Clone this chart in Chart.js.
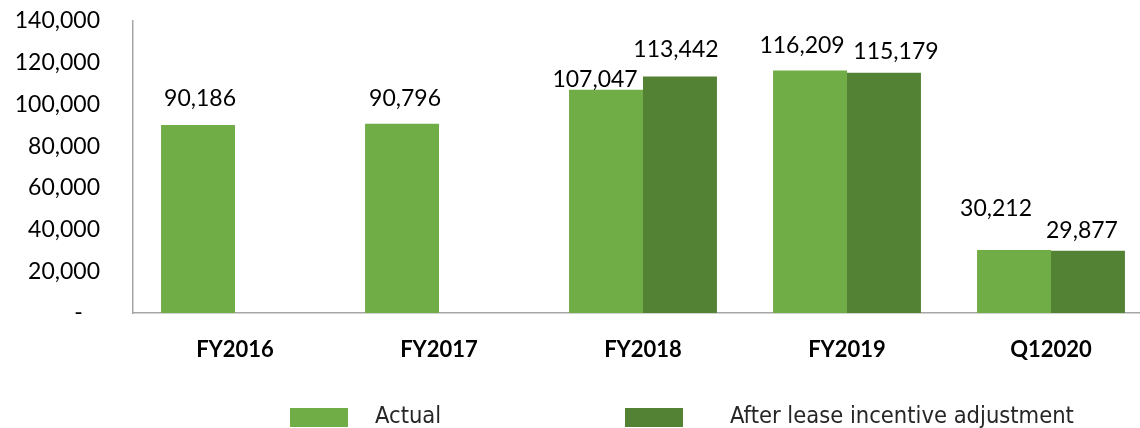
<!DOCTYPE html>
<html>
<head>
<meta charset="utf-8">
<script src="https://cdn.jsdelivr.net/npm/chart.js@4/dist/chart.umd.min.js"></script>
<style>
  html, body { margin: 0; padding: 0; background: #fff; overflow: hidden; }
  #wrap { position: relative; width: 1160px; height: 428px; }
  .lg-box { position: absolute; width: 58px; height: 19px; }
  .lg-text {
    position: absolute; font-family: "DejaVu Sans Condensed", "Liberation Sans Narrow", sans-serif;
    font-size: 23.5px; color: #262626; line-height: 23px; white-space: nowrap;
  }
</style>
</head>
<body>
<div id="wrap">
  <canvas id="chart"></canvas>
  <div id="legend"></div>
</div>
<script>
const categories = ["FY2016", "FY2017", "FY2018", "FY2019", "Q12020"];
const actualValues = [90186, 90796, 107047, 116209, 30212];
const adjustedValues = [null, null, 113442, 115179, 29877];
const seriesNames = ["Actual", "After lease incentive adjustment"];
const seriesColors = ["#70AD47", "#548235"];
const yTicks = [0, 20000, 40000, 60000, 80000, 100000, 120000, 140000];

// small hand nudges [dx, dy] for the value labels, like the original's moved labels
const labelNudge = [
  [[2, 0], [3, 1], [-11, 16], [-8, 1], [-18, -15]],
  [[0, 0], [0, 0], [-4, 0], [12, 5], [-6, 6]],
];

const fmt = (v) => v.toLocaleString("en-US");

// value labels above each bar
const barLabels = {
  id: "barLabels",
  afterDatasetsDraw(chart) {
    const ctx = chart.ctx;
    ctx.save();
    ctx.font = "23px Lato";
    ctx.fillStyle = "#000";
    ctx.textAlign = "center";
    ctx.textBaseline = "alphabetic";
    chart.data.datasets.forEach((ds, i) => {
      const meta = chart.getDatasetMeta(i);
      meta.data.forEach((bar, j) => {
        const v = ds.data[j];
        if (v == null) return;
        const [dx, dy] = labelNudge[i][j];
        ctx.fillText(fmt(v), bar.x + dx, bar.y - 19 + dy);
      });
    });
    ctx.restore();
  },
};

const ctx = document.getElementById("chart").getContext("2d");
new Chart(ctx, {
  type: "bar",
  data: {
    labels: categories,
    datasets: [
      { label: seriesNames[0], data: actualValues, backgroundColor: seriesColors[0] },
      { label: seriesNames[1], data: adjustedValues, backgroundColor: seriesColors[1] },
    ],
  },
  options: {
    responsive: true,
    maintainAspectRatio: false,
    animation: false,
    layout: { padding: { top: 21, right: 7, bottom: 55, left: 0 } },
    datasets: { bar: { barPercentage: 1, categoryPercentage: 0.725 } },
    plugins: {
      legend: { display: false },
      tooltip: { enabled: false },
    },
    scales: {
      x: {
        grid: { display: false, drawTicks: true, tickLength: 22 },
        border: { display: true, color: "#A6A6A6", width: 1.5 },
        ticks: { padding: 2, color: "#000", font: { family: "Lato", size: 22, weight: "bold" } },
        afterFit: (scale) => { scale.height = 60; },
      },
      y: {
        min: 0,
        max: 140000,
        afterBuildTicks: (scale) => { scale.ticks = yTicks.map((v) => ({ value: v })); },
        grid: { display: false, drawTicks: true, tickLength: 31 },
        border: { display: true, color: "#A6A6A6", width: 1.5 },
        ticks: {
          padding: 2,
          color: "#000",
          font: { family: "Lato", size: 23 },
          // zero shows as a dash, set in a little like accounting format
          callback: (v) => (v === 0 ? "-\u2003" : fmt(v)),
        },
        afterFit: (scale) => { scale.width = 133; },
      },
    },
  },
  plugins: [barLabels],
});

// legend built from the series arrays
const legend = document.getElementById("legend");
const boxLeft = [290, 625];
const textLeft = [375, 730];
seriesNames.forEach((name, i) => {
  const b = document.createElement("div");
  b.className = "lg-box";
  b.style.left = boxLeft[i] + "px";
  b.style.top = "408px";
  b.style.background = seriesColors[i];
  legend.appendChild(b);
  const t = document.createElement("div");
  t.className = "lg-text";
  t.style.left = textLeft[i] + "px";
  t.style.top = "404px";
  t.textContent = name;
  legend.appendChild(t);
});
</script>
</body>
</html>
